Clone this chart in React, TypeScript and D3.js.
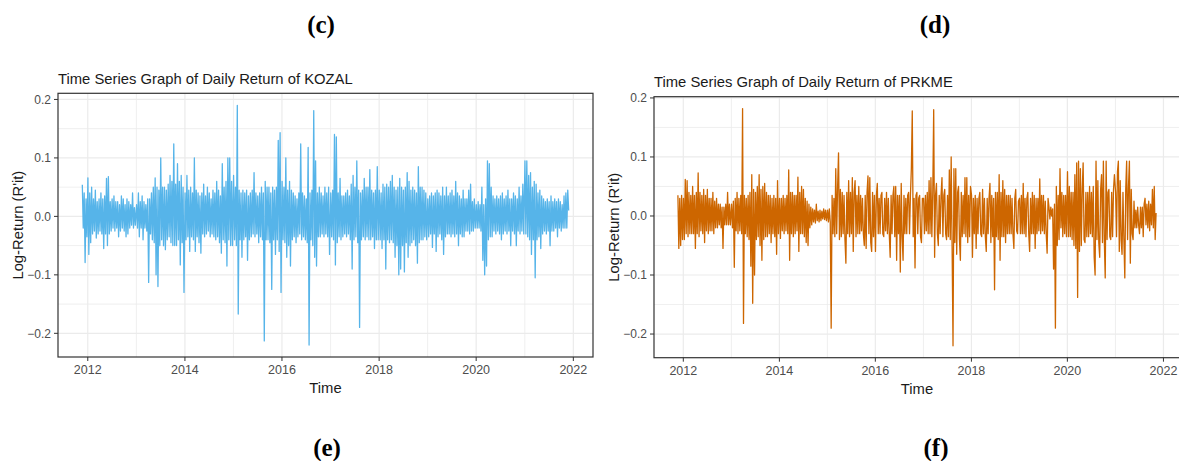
import React from "react";
import * as d3 from "d3";

// weekly log-returns (one value ~ one pixel column)
const kozal2011 = [0.054, -0.02, 0.04, -0.079, 0.03, -0.035];
const kozal2012 = [0.066, -0.065, 0.04, -0.045, 0.05, -0.03, 0.03, -0.025, 0.045, -0.037, 0.025, -0.03, 0.03, -0.025, 0.04, -0.03, 0.03, -0.055, 0.035, -0.03, 0.065, -0.05, 0.068, -0.03, 0.025, -0.025, 0.03, -0.02, 0.035, -0.025, 0.025, -0.02, 0.025, -0.035, 0.02, -0.025, 0.035, -0.02, 0.03, -0.025, 0.02, -0.035, 0.03, -0.03, 0.025, -0.02, 0.02, -0.015, 0.04, -0.02, 0.015, -0.015];
const kozal2013 = [0.02, -0.02, 0.04, -0.035, 0.025, -0.02, 0.035, -0.04, 0.025, -0.02, 0.02, -0.025, 0.03, -0.113, 0.03, -0.03, 0.04, -0.04, 0.05, -0.045, 0.066, -0.1, 0.05, -0.12, 0.045, -0.05, 0.1, -0.04, 0.05, -0.05, 0.05, -0.057, 0.045, -0.04, 0.055, -0.035, 0.07, -0.045, 0.06, -0.05, 0.124, -0.05, 0.055, -0.05, 0.09, -0.04, 0.06, -0.083, 0.07, -0.045, 0.05, -0.13];
const kozal2014 = [0.04, -0.04, 0.07, -0.035, 0.045, -0.06, 0.05, -0.035, 0.04, -0.04, 0.1, -0.06, 0.045, -0.035, 0.04, -0.045, 0.035, -0.063, 0.04, -0.03, 0.055, -0.035, 0.035, -0.03, 0.05, -0.025, 0.04, -0.035, 0.03, -0.03, 0.045, -0.035, 0.04, -0.04, 0.06, -0.035, 0.045, -0.045, 0.035, -0.063, 0.09, -0.04, 0.05, -0.045, 0.06, -0.085, 0.1, -0.04, 0.1, -0.05, 0.06, -0.05];
const kozal2015 = [0.07, -0.04, 0.05, -0.05, 0.19, -0.167, 0.045, -0.04, 0.04, -0.07, 0.045, -0.04, 0.04, -0.035, 0.045, -0.075, 0.035, -0.04, 0.04, -0.035, 0.045, -0.03, 0.075, -0.035, 0.04, -0.03, 0.035, -0.045, 0.04, -0.035, 0.05, -0.04, 0.04, -0.213, 0.06, -0.04, 0.05, -0.04, 0.05, -0.045, 0.04, -0.125, 0.05, -0.04, 0.045, -0.065, 0.05, -0.04, 0.13, -0.06, 0.143, -0.13];
const kozal2016 = [0.06, -0.04, 0.05, -0.045, 0.1, -0.07, 0.045, -0.05, 0.06, -0.085, 0.045, -0.04, 0.04, -0.035, 0.035, -0.045, 0.03, -0.035, 0.04, -0.03, 0.124, -0.04, 0.04, -0.035, 0.035, -0.04, 0.03, -0.045, 0.118, -0.22, 0.04, -0.04, 0.045, -0.05, 0.181, -0.07, 0.095, -0.085, 0.04, -0.035, 0.05, -0.035, 0.04, -0.03, 0.035, -0.035, 0.05, -0.03, 0.04, -0.035, 0.05, -0.065];
const kozal2017 = [0.04, -0.035, 0.045, -0.04, 0.14, -0.083, 0.136, -0.045, 0.04, -0.035, 0.065, -0.04, 0.035, -0.035, 0.035, -0.03, 0.04, -0.035, 0.045, -0.03, 0.035, -0.04, 0.055, -0.09, 0.07, -0.04, 0.05, -0.035, 0.095, -0.045, 0.045, -0.19, 0.04, -0.04, 0.045, -0.035, 0.065, -0.04, 0.05, -0.035, 0.05, -0.04, 0.08, -0.04, 0.045, -0.035, 0.04, -0.055, 0.045, -0.04, 0.085, -0.04];
const kozal2018 = [0.045, -0.04, 0.04, -0.055, 0.055, -0.04, 0.05, -0.09, 0.055, -0.04, 0.05, -0.045, 0.06, -0.04, 0.07, -0.045, 0.05, -0.07, 0.045, -0.05, 0.05, -0.1, 0.065, -0.09, 0.05, -0.05, 0.045, -0.095, 0.05, -0.045, 0.075, -0.07, 0.06, -0.05, 0.045, -0.045, 0.05, -0.04, 0.045, -0.05, 0.04, -0.08, 0.085, -0.045, 0.05, -0.04, 0.05, -0.04, 0.045, -0.035, 0.04, -0.04];
const kozal2019 = [0.03, -0.035, 0.035, -0.03, 0.04, -0.053, 0.035, -0.03, 0.04, -0.06, 0.045, -0.035, 0.04, -0.03, 0.035, -0.04, 0.05, -0.065, 0.035, -0.035, 0.05, -0.03, 0.035, -0.03, 0.04, -0.035, 0.045, -0.03, 0.035, -0.035, 0.06, -0.03, 0.04, -0.05, 0.035, -0.03, 0.03, -0.035, 0.045, -0.035, 0.03, -0.025, 0.03, -0.025, 0.045, -0.03, 0.055, -0.025, 0.025, -0.025, 0.03, -0.02];
const kozal2020 = [0.02, -0.02, 0.025, -0.02, 0.02, -0.025, 0.05, -0.075, 0.02, -0.1, 0.03, -0.085, 0.095, -0.04, 0.09, -0.035, 0.05, -0.035, 0.035, -0.025, 0.03, -0.03, 0.035, -0.025, 0.03, -0.03, 0.035, -0.04, 0.04, -0.03, 0.03, -0.025, 0.035, -0.03, 0.045, -0.025, 0.03, -0.05, 0.03, -0.025, 0.04, -0.03, 0.035, -0.05, 0.03, -0.025, 0.05, -0.03, 0.035, -0.025, 0.055, -0.03];
const kozal2021 = [0.095, -0.03, 0.095, -0.035, 0.07, -0.04, 0.075, -0.065, 0.05, -0.04, 0.06, -0.105, 0.055, -0.04, 0.04, -0.035, 0.045, -0.055, 0.035, -0.03, 0.03, -0.025, 0.025, -0.03, 0.03, -0.025, 0.025, -0.05, 0.035, -0.025, 0.025, -0.025, 0.03, -0.02, 0.025, -0.035, 0.03, -0.02, 0.025, -0.025, 0.02, -0.02, 0.035, -0.02, 0.04, -0.02, 0.045, 0.01];

const prkme2011 = [0.035, -0.055, 0.03, -0.05, 0.035, -0.04];
const prkme2012 = [0.03, -0.04, 0.062, -0.03, 0.06, -0.035, 0.04, -0.03, 0.035, -0.03, 0.05, -0.03, 0.035, -0.055, 0.04, -0.03, 0.073, -0.035, 0.04, -0.025, 0.035, -0.03, 0.045, -0.045, 0.035, -0.025, 0.045, -0.03, 0.03, -0.025, 0.03, -0.025, 0.04, -0.03, 0.025, -0.02, 0.03, -0.02, 0.02, -0.015, 0.02, -0.02, 0.015, -0.055, 0.015, -0.015, 0.02, -0.015, 0.04, -0.015, 0.02, -0.015];
const prkme2013 = [0.02, -0.02, 0.025, -0.087, 0.03, -0.025, 0.04, -0.03, 0.03, -0.025, 0.035, -0.03, 0.182, -0.182, 0.035, -0.03, 0.03, -0.035, 0.035, -0.04, 0.04, -0.085, 0.07, -0.148, 0.045, -0.1, 0.04, -0.04, 0.05, -0.035, 0.07, -0.05, 0.045, -0.075, 0.05, -0.04, 0.055, -0.035, 0.04, -0.035, 0.035, -0.03, 0.035, -0.045, 0.03, -0.03, 0.035, -0.035, 0.03, -0.065, 0.06, -0.03];
const prkme2014 = [0.03, -0.038, 0.03, -0.025, 0.035, -0.03, 0.03, -0.025, 0.035, -0.03, 0.078, -0.075, 0.04, -0.03, 0.04, -0.035, 0.035, -0.03, 0.035, -0.025, 0.066, -0.06, 0.04, -0.03, 0.05, -0.03, 0.045, -0.035, 0.03, -0.045, 0.025, -0.05, 0.02, -0.02, 0.015, -0.015, 0.012, -0.01, 0.01, -0.012, 0.02, -0.008, 0.008, -0.01, 0.01, -0.008, 0.008, -0.005, 0.012, -0.006, 0.01, -0.008];
const prkme2015 = [0.01, -0.01, 0.012, -0.01, -0.19, 0.035, -0.03, 0.03, -0.035, 0.08, -0.03, 0.05, 0.107, -0.04, 0.045, -0.035, 0.04, -0.03, 0.035, -0.04, -0.08, 0.04, -0.03, 0.06, -0.035, 0.04, -0.03, 0.065, -0.06, 0.04, 0.06, -0.035, 0.035, -0.03, 0.05, -0.03, 0.035, -0.025, 0.03, -0.03, -0.05, 0.035, -0.055, 0.04, 0.068, -0.03, 0.065, -0.045, -0.06, 0.04, -0.035, 0.035];
const prkme2016 = [-0.06, 0.035, 0.055, -0.03, 0.03, -0.03, 0.035, 0.04, -0.03, -0.035, 0.03, -0.025, 0.04, -0.03, 0.03, -0.03, -0.07, 0.035, -0.03, 0.035, 0.05, -0.035, 0.05, -0.075, 0.035, -0.03, 0.035, -0.095, 0.055, -0.035, -0.075, 0.035, -0.03, 0.03, -0.03, 0.035, 0.04, -0.03, 0.035, 0.08, 0.178, -0.035, 0.03, -0.088, 0.035, 0.04, -0.03, 0.03, 0.035, -0.035, -0.045, 0.03];
const prkme2017 = [0.03, -0.03, 0.035, -0.025, 0.04, -0.03, 0.06, -0.03, 0.065, -0.035, 0.04, 0.18, -0.07, 0.035, 0.055, -0.03, -0.05, 0.035, -0.03, 0.035, 0.065, -0.035, 0.035, 0.045, -0.03, -0.04, 0.035, -0.035, 0.078, -0.04, 0.1, -0.05, -0.22, 0.08, -0.045, 0.08, -0.065, 0.04, 0.05, -0.04, -0.075, 0.04, -0.035, 0.035, -0.03, 0.065, -0.035, 0.065, -0.045, 0.035, -0.035, 0.05];
const prkme2018 = [0.035, -0.07, 0.03, -0.03, 0.035, -0.055, 0.03, -0.03, 0.03, 0.04, -0.03, -0.035, 0.045, -0.03, 0.03, -0.035, -0.06, 0.03, -0.03, 0.03, 0.055, -0.045, 0.035, -0.035, 0.03, -0.125, 0.04, -0.035, 0.04, -0.04, 0.07, -0.075, 0.04, -0.035, 0.06, -0.035, 0.045, -0.045, 0.035, -0.03, 0.035, -0.03, 0.035, -0.03, 0.03, -0.03, -0.055, 0.03, 0.045, -0.025, -0.03, 0.025];
const prkme2019 = [0.03, -0.03, 0.035, -0.03, 0.055, -0.03, 0.03, -0.035, 0.03, 0.04, -0.03, -0.06, 0.03, -0.03, 0.04, -0.03, 0.035, -0.055, 0.03, -0.03, 0.03, -0.025, 0.063, -0.03, 0.035, -0.025, 0.035, -0.03, 0.025, -0.03, -0.063, 0.03, 0.015, -0.005, 0.015, 0.0, 0.012, -0.09, 0.02, -0.19, 0.05, -0.05, 0.035, -0.04, 0.08, -0.02, 0.04, -0.035, 0.035, -0.03, 0.035, -0.035];
const prkme2020 = [0.075, -0.035, 0.05, -0.035, 0.04, -0.04, 0.04, -0.05, 0.07, -0.055, 0.09, -0.138, 0.093, -0.06, 0.08, -0.05, 0.045, 0.09, -0.04, -0.045, 0.04, -0.035, 0.04, -0.035, 0.05, -0.03, 0.04, -0.035, 0.05, -0.07, -0.1, 0.093, -0.04, 0.06, -0.045, -0.07, 0.045, 0.07, -0.045, 0.093, -0.04, -0.105, 0.093, -0.04, 0.04, 0.045, -0.035, -0.04, 0.04, -0.035, 0.045, 0.07];
const prkme2021 = [0.04, -0.035, 0.075, 0.093, -0.06, 0.06, -0.04, -0.065, 0.04, -0.04, -0.105, 0.045, 0.093, -0.04, 0.05, 0.093, -0.08, 0.045, -0.03, -0.04, 0.025, -0.02, 0.01, -0.02, 0.015, -0.015, -0.03, 0.015, -0.02, 0.015, -0.035, 0.02, 0.03, -0.015, 0.02, -0.02, 0.025, -0.025, 0.02, -0.015, 0.045, -0.02, 0.05, -0.04, 0.005];

const years = [2012, 2013, 2014, 2015, 2016, 2017, 2018, 2019, 2020, 2021];
const yBreaks = [-0.2, -0.1, 0.0, 0.1, 0.2];
const xBreaks = [2012, 2014, 2016, 2018, 2020, 2022];

type Pt = { date: Date; value: number };

function weekly(first: Date, vals: number[]): Pt[] {
  return vals.map((v, i) => ({ date: d3.timeDay.offset(first, 7 * i), value: v }));
}

function buildSeries(first: number[], perYear: number[][]): Pt[] {
  let out = weekly(new Date(2011, 10, 21), first);
  perYear.forEach((vals, i) => {
    out = out.concat(weekly(new Date(years[i], 0, 2), vals));
  });
  return out;
}

const kozal = buildSeries(kozal2011, [kozal2012, kozal2013, kozal2014, kozal2015, kozal2016, kozal2017, kozal2018, kozal2019, kozal2020, kozal2021]);
const prkme = buildSeries(prkme2011, [prkme2012, prkme2013, prkme2014, prkme2015, prkme2016, prkme2017, prkme2018, prkme2019, prkme2020, prkme2021]);

const FONT = "'Liberation Sans', Arial, sans-serif";

// ggplot-like 5% expansion
function expand(lo: number, hi: number): [number, number] {
  const d = (hi - lo) * 0.05;
  return [lo - d, hi + d];
}

function Panel({ data, title, color, box }: { data: Pt[]; title: string; color: string; box: { x0: number; x1: number; y0: number; y1: number; titleY: number } }) {
  const t = d3.extent(data, (d) => +d.date) as [number, number];
  const v = d3.extent(data, (d) => d.value) as [number, number];
  const [t0, t1] = expand(t[0], t[1]);
  const x = d3.scaleTime().domain([new Date(t0), new Date(t1)]).range([box.x0, box.x1]);
  const y = d3.scaleLinear().domain(expand(v[0], v[1])).range([box.y1, box.y0]);
  const line = d3.line<Pt>().x((d) => x(d.date)).y((d) => y(d.value));

  const minorY = [-0.15, -0.05, 0.05, 0.15];
  const minorX = [2013, 2015, 2017, 2019, 2021];
  const cx = (box.x0 + box.x1) / 2;
  const cy = (box.y0 + box.y1) / 2;
  const clipId = "clip-" + title.slice(-5);

  return (
    <g>
      <defs>
        <clipPath id={clipId}>
          <rect x={box.x0} y={box.y0} width={box.x1 - box.x0} height={box.y1 - box.y0} />
        </clipPath>
      </defs>
      <rect x={box.x0} y={box.y0} width={box.x1 - box.x0} height={box.y1 - box.y0} fill="white" />
      {minorY.map((b) => (
        <line key={"my" + b} x1={box.x0} x2={box.x1} y1={y(b)} y2={y(b)} stroke="#EBEBEB" strokeWidth={0.8} />
      ))}
      {minorX.map((b) => (
        <line key={"mx" + b} y1={box.y0} y2={box.y1} x1={x(new Date(b, 0, 1))} x2={x(new Date(b, 0, 1))} stroke="#EBEBEB" strokeWidth={0.8} />
      ))}
      {yBreaks.map((b) => (
        <line key={"gy" + b} x1={box.x0} x2={box.x1} y1={y(b)} y2={y(b)} stroke="#EBEBEB" strokeWidth={1.2} />
      ))}
      {xBreaks.map((b) => (
        <line key={"gx" + b} y1={box.y0} y2={box.y1} x1={x(new Date(b, 0, 1))} x2={x(new Date(b, 0, 1))} stroke="#EBEBEB" strokeWidth={1.2} />
      ))}
      <path d={line(data) || ""} fill="none" stroke={color} strokeWidth={1.3} strokeLinejoin="round" clipPath={`url(#${clipId})`} />
      <rect x={box.x0} y={box.y0} width={box.x1 - box.x0} height={box.y1 - box.y0} fill="none" stroke="#333333" strokeWidth={1.2} />
      {yBreaks.map((b) => (
        <g key={"ty" + b}>
          <line x1={box.x0 - 4} x2={box.x0} y1={y(b)} y2={y(b)} stroke="#333333" strokeWidth={1} />
          <text x={box.x0 - 7} y={y(b)} dy="0.35em" textAnchor="end" fontSize={12} fill="#4D4D4D" fontFamily={FONT}>
            {d3.format(".1f")(b)}
          </text>
        </g>
      ))}
      {xBreaks.map((b) => (
        <g key={"tx" + b}>
          <line y1={box.y1} y2={box.y1 + 4} x1={x(new Date(b, 0, 1))} x2={x(new Date(b, 0, 1))} stroke="#333333" strokeWidth={1} />
          <text x={x(new Date(b, 0, 1))} y={box.y1 + 17} textAnchor="middle" fontSize={12.5} fill="#4D4D4D" fontFamily={FONT}>
            {b}
          </text>
        </g>
      ))}
      <text x={box.x0} y={box.titleY} fontSize={14.8} fill="#1A1A1A" fontFamily={FONT}>
        {title}
      </text>
      <text x={cx} y={box.y1 + 36} textAnchor="middle" fontSize={14.8} fill="#1A1A1A" fontFamily={FONT}>
        Time
      </text>
      <text transform={`translate(${box.x0 - 35},${cy}) rotate(-90)`} textAnchor="middle" fontSize={14.8} fill="#1A1A1A" fontFamily={FONT}>
        Log-Return (R'it)
      </text>
    </g>
  );
}

export default function App() {
  return (
    <svg width={1179} height={461} style={{ position: "absolute", left: 0, top: 0, background: "white" }}>
      <Panel data={kozal} title="Time Series Graph of Daily Return of KOZAL" color="#56B4E9" box={{ x0: 58, x1: 593, y0: 93.3, y1: 357, titleY: 84 }} />
      <Panel data={prkme} title="Time Series Graph of Daily Return of PRKME" color="#CD6600" box={{ x0: 654, x1: 1180, y0: 96.7, y1: 357.7, titleY: 87 }} />
      <g fontFamily="'Liberation Serif', 'Times New Roman', serif" fontWeight="bold" fontSize={25} textAnchor="middle" fill="#000">
        <text x={321} y={33}>(c)</text>
        <text x={935} y={33}>(d)</text>
        <text x={327} y={456}>(e)</text>
        <text x={936} y={456}>(f)</text>
      </g>
    </svg>
  );
}
